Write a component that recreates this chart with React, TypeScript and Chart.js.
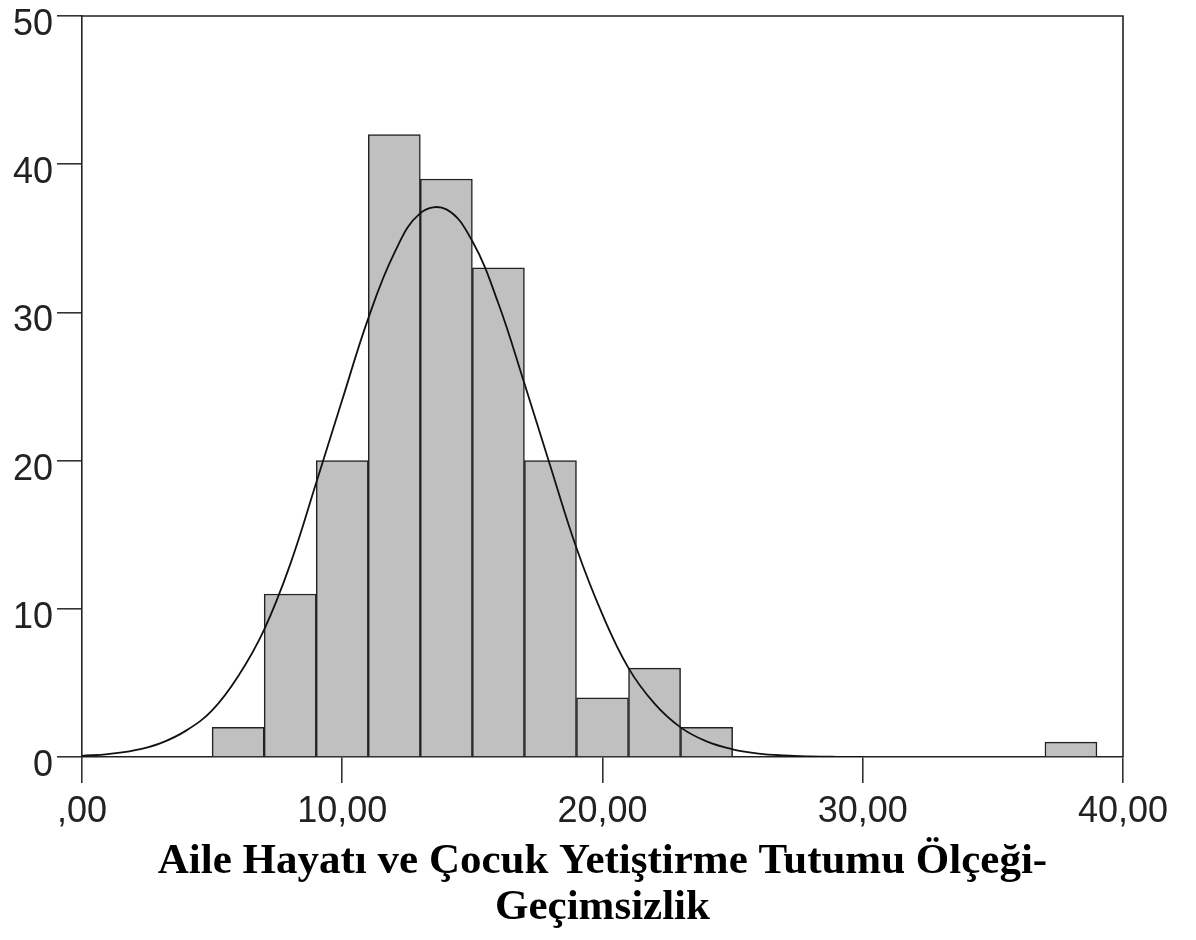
import React, { useEffect, useRef } from 'react';
import { Chart, registerables } from 'chart.js';

Chart.register(...registerables);

// Histogram bins (start of each 2-wide bin) and frequencies
const binStarts = [5, 7, 9, 11, 13, 15, 17, 19, 21, 23, 37];
const binWidth = 2;
const counts = [2, 11, 20, 42, 39, 33, 20, 4, 6, 2, 1];

// Normal curve
const curveX = [0, 1, 2, 3, 4, 5, 6, 7, 8, 9, 10, 11, 12, 13, 14, 15, 16, 17, 18, 19, 20, 21, 22, 23, 24, 25, 26, 27, 28, 29, 30];
const curveY = [0.08, 0.2, 0.44, 0.92, 1.78, 3.15, 5.45, 8.6, 13.0, 18.5, 24.1, 29.6, 34.0, 36.7, 36.95, 34.8, 30.6, 25.2, 19.6, 14.1, 9.6, 6.0, 3.6, 2.0, 1.05, 0.52, 0.23, 0.1, 0.04, 0.015, 0.005];

const xTickValues = [0, 10, 20, 30, 40];
const xTickLabels = [',00', '10,00', '20,00', '30,00', '40,00'];
const yTickValues = [0, 10, 20, 30, 40, 50];
const yTickLabels = ['0', '10', '20', '30', '40', '50'];
const xTitle = ['Aile Hayatı ve Çocuk Yetiştirme Tutumu Ölçeği-', 'Geçimsizlik'];

const AXIS = '#222222';

const framePlugin = {
  id: 'frame',
  afterDatasetsDraw(chart: any) {
    const { ctx, chartArea: a } = chart;
    ctx.save();
    ctx.strokeStyle = AXIS;
    ctx.lineWidth = 1.6;
    ctx.beginPath();
    ctx.moveTo(a.left, a.top);
    ctx.lineTo(a.right, a.top);
    ctx.lineTo(a.right, a.bottom);
    ctx.stroke();
    ctx.restore();
  },
};

export default function App() {
  const ref = useRef<HTMLCanvasElement | null>(null);

  useEffect(() => {
    if (!ref.current) return;
    const barData = binStarts.map((s, i) => ({ x: s + binWidth / 2, y: counts[i] }));
    const lineData = curveX.map((x, i) => ({ x, y: curveY[i] }));

    const chart = new Chart(ref.current, {
      type: 'bar',
      data: {
        datasets: [
          {
            type: 'line',
            data: lineData,
            borderColor: '#111111',
            borderWidth: 1.8,
            pointRadius: 0,
            tension: 0.4,
            fill: false,
            order: 0,
          } as any,
          {
            type: 'bar',
            data: barData,
            backgroundColor: '#c0c0c0',
            borderColor: '#222222',
            borderWidth: 1.5,
            barPercentage: 1,
            categoryPercentage: 1,
            order: 1,
          } as any,
        ],
      },
      options: {
        animation: false,
        responsive: true,
        maintainAspectRatio: false,
        layout: { padding: { top: 16, right: 73, bottom: 10, left: 0 } },
        plugins: { legend: { display: false }, tooltip: { enabled: false }, title: { display: false } },
        scales: {
          x: {
            type: 'linear',
            min: 0,
            max: 40,
            offset: false,
            afterBuildTicks: (s: any) => {
              s.ticks = xTickValues.map((v) => ({ value: v }));
            },
            afterFit: (s: any) => {
              s.height = 173;
              s.paddingLeft = 0;
              s.paddingRight = 0;
              s.paddingTop = 0;
              s.paddingBottom = 0;
            },
            grid: {
              offset: false,
              drawOnChartArea: false,
              drawTicks: true,
              tickLength: 26,
              color: '#333333',
              lineWidth: 1.6,
            },
            border: { display: true, color: AXIS, width: 1.6 },
            ticks: {
              autoSkip: false,
              maxRotation: 0,
              padding: 7,
              color: '#222222',
              font: { family: '"Liberation Sans", Arial, sans-serif', size: 36 },
              callback: (v: any) => {
                const i = xTickValues.indexOf(Number(v));
                return i >= 0 ? xTickLabels[i] : '';
              },
            },
            title: {
              display: true,
              text: xTitle,
              color: '#000000',
              padding: { top: 0, bottom: 0 },
              font: { family: '"Liberation Serif", "Times New Roman", serif', size: 43, weight: 'bold', lineHeight: 1.05 },
            },
          },
          y: {
            type: 'linear',
            min: 0,
            max: 50,
            afterBuildTicks: (s: any) => {
              s.ticks = yTickValues.map((v) => ({ value: v }));
            },
            afterFit: (s: any) => {
              s.width = 82;
              s.paddingLeft = 0;
              s.paddingRight = 0;
              s.paddingTop = 0;
              s.paddingBottom = 0;
            },
            grid: {
              drawOnChartArea: false,
              drawTicks: true,
              tickLength: 25,
              color: '#333333',
              lineWidth: 1.6,
            },
            border: { display: true, color: AXIS, width: 1.6 },
            ticks: {
              padding: 4,
              labelOffset: 9,
              color: '#222222',
              font: { family: '"Liberation Sans", Arial, sans-serif', size: 36 },
              callback: (v: any) => {
                const i = yTickValues.indexOf(Number(v));
                return i >= 0 ? yTickLabels[i] : '';
              },
            },
          },
        },
      } as any,
      plugins: [framePlugin],
    });
    return () => chart.destroy();
  }, []);

  return (
    <div style={{ position: 'fixed', left: 0, top: 0, width: 1196, height: 940, background: '#ffffff' }}>
      <canvas ref={ref} />
    </div>
  );
}
